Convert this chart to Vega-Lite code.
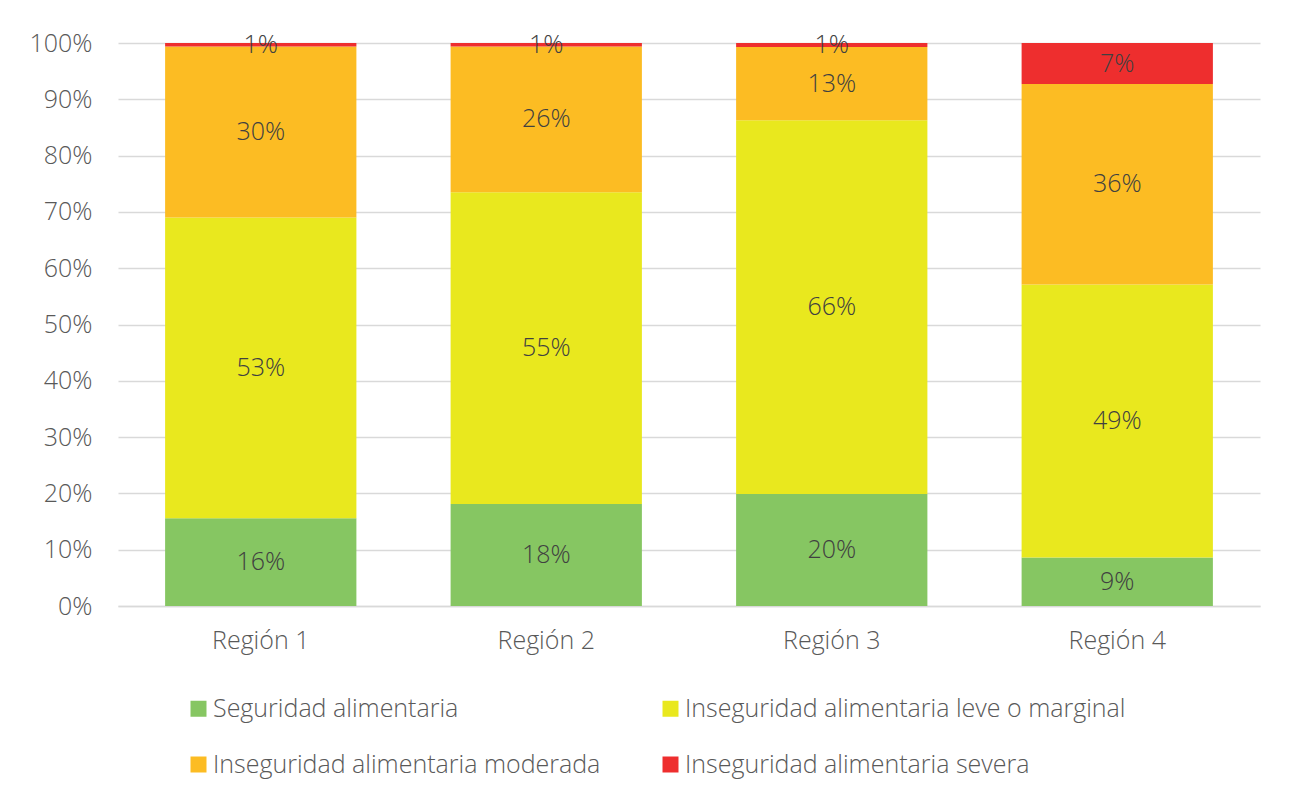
{
  "$schema": "https://vega.github.io/schema/vega-lite/v6.json",
  "width": 1142,
  "height": 563,
  "autosize": {"type": "none"},
  "padding": {"left": 118, "top": 43, "right": 36, "bottom": 199},
  "background": "white",
  "config": {
    "view": {"stroke": null},
    "font": "Open Sans",
    "axis": {"labelFont": "Open Sans", "labelColor": "#595959", "labelFontSize": 25, "labelFontWeight": 300, "title": null},
    "legend": {"labelFont": "Open Sans", "labelColor": "#595959", "labelFontSize": 25, "labelFontWeight": 300}
  },
  "data": {
    "values": [
      {"region": "Región 1", "cat": "Seguridad alimentaria", "o": 1, "v": 0.156},
      {"region": "Región 1", "cat": "Inseguridad alimentaria leve o marginal", "o": 2, "v": 0.534},
      {"region": "Región 1", "cat": "Inseguridad alimentaria moderada", "o": 3, "v": 0.304},
      {"region": "Región 1", "cat": "Inseguridad alimentaria severa", "o": 4, "v": 0.006},
      {"region": "Región 2", "cat": "Seguridad alimentaria", "o": 1, "v": 0.181},
      {"region": "Región 2", "cat": "Inseguridad alimentaria leve o marginal", "o": 2, "v": 0.554},
      {"region": "Región 2", "cat": "Inseguridad alimentaria moderada", "o": 3, "v": 0.259},
      {"region": "Región 2", "cat": "Inseguridad alimentaria severa", "o": 4, "v": 0.006},
      {"region": "Región 3", "cat": "Seguridad alimentaria", "o": 1, "v": 0.199},
      {"region": "Región 3", "cat": "Inseguridad alimentaria leve o marginal", "o": 2, "v": 0.664},
      {"region": "Región 3", "cat": "Inseguridad alimentaria moderada", "o": 3, "v": 0.130},
      {"region": "Región 3", "cat": "Inseguridad alimentaria severa", "o": 4, "v": 0.007},
      {"region": "Región 4", "cat": "Seguridad alimentaria", "o": 1, "v": 0.086},
      {"region": "Región 4", "cat": "Inseguridad alimentaria leve o marginal", "o": 2, "v": 0.485},
      {"region": "Región 4", "cat": "Inseguridad alimentaria moderada", "o": 3, "v": 0.356},
      {"region": "Región 4", "cat": "Inseguridad alimentaria severa", "o": 4, "v": 0.073}
    ]
  },
  "transform": [
    {"stack": "v", "groupby": ["region"], "sort": [{"field": "o", "order": "ascending"}], "as": ["y0", "y1"]},
    {"calculate": "(datum.y0 + datum.y1) / 2", "as": "mid"}
  ],
  "encoding": {
    "x": {
      "field": "region", "type": "nominal",
      "scale": {"paddingInner": 0.33, "paddingOuter": 0.165},
      "axis": {"labelAngle": 0, "ticks": false, "domainColor": "#D9D9D9", "domainWidth": 1.5, "labelPadding": 22, "grid": false}
    }
  },
  "layer": [
    {
      "mark": {"type": "bar"},
      "encoding": {
        "y": {
          "field": "y0", "type": "quantitative",
          "scale": {"domain": [0, 1], "nice": false},
          "axis": {"format": ".0%", "values": [0, 0.1, 0.2, 0.3, 0.4, 0.5, 0.6, 0.7, 0.8, 0.9, 1], "ticks": false, "domain": false, "gridColor": "#D9D9D9", "gridWidth": 1.5, "labelPadding": 26}
        },
        "y2": {"field": "y1"},
        "color": {
          "field": "cat", "type": "nominal",
          "scale": {
            "domain": ["Seguridad alimentaria", "Inseguridad alimentaria leve o marginal", "Inseguridad alimentaria moderada", "Inseguridad alimentaria severa"],
            "range": ["#86C662", "#E9E81E", "#FCBC23", "#EE2E2E"]
          },
          "legend": {
            "title": null, "orient": "none", "legendX": 68, "legendY": 653, "columns": 2, "columnPadding": 57, "rowPadding": 30,
            "symbolType": "square", "symbolSize": 256, "symbolStrokeWidth": 0, "labelOffset": 2, "labelLimit": 600, "direction": "horizontal"
          }
        }
      }
    },
    {
      "mark": {"type": "text", "fontSize": 25, "fontWeight": 300, "color": "#404040", "font": "Open Sans"},
      "encoding": {
        "y": {"field": "mid", "type": "quantitative"},
        "text": {"field": "v", "type": "quantitative", "format": ".0%"}
      }
    }
  ]
}
